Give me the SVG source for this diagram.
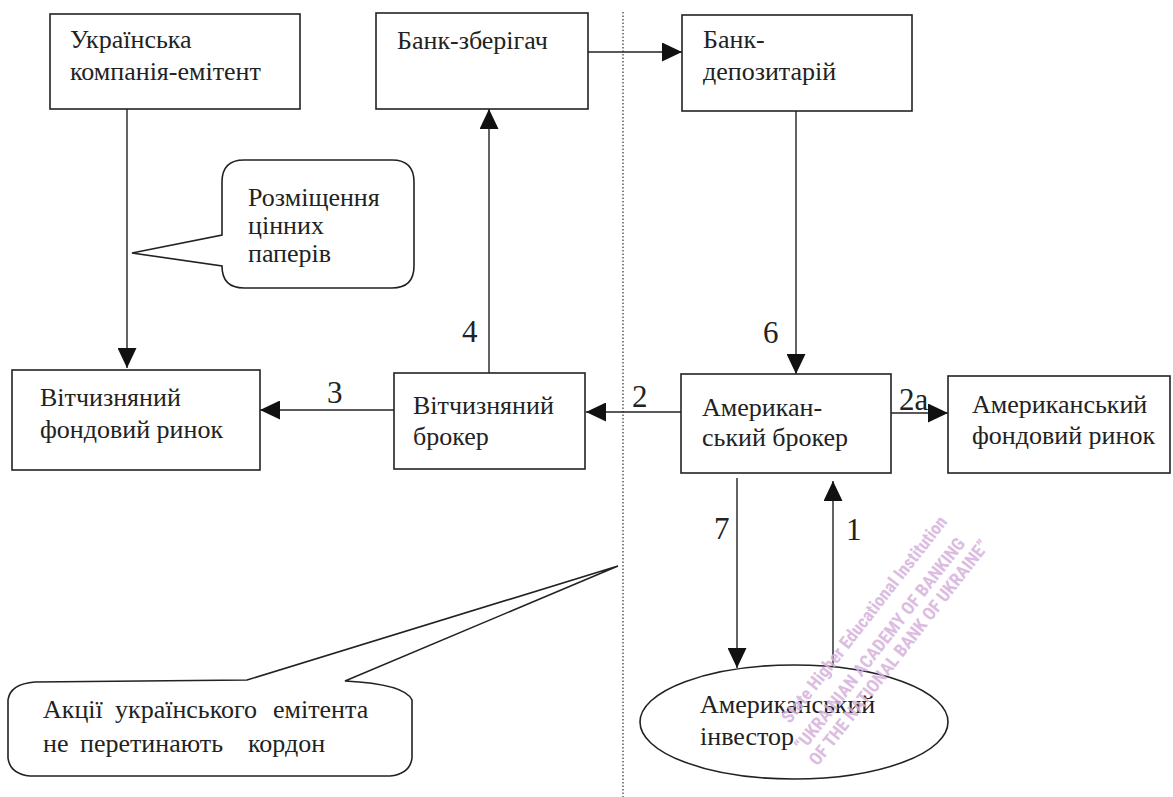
<svg xmlns="http://www.w3.org/2000/svg" width="1173" height="797" viewBox="0 0 1173 797">
<defs>
<style>
.box{fill:#fff;stroke:#222;stroke-width:1.6}
.t{font-family:'Liberation Serif','Tinos','Noto Serif','FreeSerif','Times New Roman',serif;font-size:26px;fill:#222}
.n{font-family:'Liberation Serif','Tinos','Noto Serif','FreeSerif','Times New Roman',serif;font-size:31px;fill:#222}
.ln{fill:none;stroke:#222;stroke-width:1.4}
.wm{font-family:'Roboto Condensed','Liberation Sans Narrow','Liberation Sans',sans-serif;font-weight:bold;font-size:18px;fill:#d6b2dc}
</style>
<marker id="ah" markerUnits="userSpaceOnUse" markerWidth="20" markerHeight="19" refX="20" refY="9.5" orient="auto">
<path d="M0,0 L20,9.5 L0,19 Z" fill="#111"/>
</marker>
</defs>
<rect width="1173" height="797" fill="#fff"/>
<line x1="623" y1="12" x2="623" y2="797" stroke="#333" stroke-width="1.2" stroke-dasharray="1.5,2"/>
<g id="connectors">
<line class="ln" x1="127" y1="109" x2="127" y2="368" marker-end="url(#ah)"/>
<line class="ln" x1="489" y1="373" x2="489" y2="109" marker-end="url(#ah)"/>
<line class="ln" x1="588" y1="52" x2="682" y2="52" marker-end="url(#ah)"/>
<line class="ln" x1="796" y1="111" x2="796" y2="374" marker-end="url(#ah)"/>
<line class="ln" x1="395" y1="410" x2="260" y2="410" marker-end="url(#ah)"/>
<line class="ln" x1="681" y1="412" x2="586" y2="412" marker-end="url(#ah)"/>
<line class="ln" x1="891" y1="413" x2="948" y2="413" marker-end="url(#ah)"/>
<line class="ln" x1="737" y1="478" x2="737" y2="668" marker-end="url(#ah)"/>
<line class="ln" x1="833" y1="668" x2="833" y2="481" marker-end="url(#ah)"/>
<text class="n" x="327" y="403">3</text>
<text class="n" x="462" y="342">4</text>
<text class="n" x="632" y="407">2</text>
<text class="n" x="763" y="343">6</text>
<text class="n" x="899" y="410">2a</text>
<text class="n" x="714" y="539">7</text>
<text class="n" x="846" y="540">1</text>
</g>
<g id="emitent">
<rect class="box" x="50" y="14" width="250" height="95"/>
<text class="t" x="70" y="48">Українська</text>
<text class="t" x="70" y="80">компанія-емітент</text>
</g>
<g id="bank-custodian">
<rect class="box" x="376" y="13" width="212" height="96"/>
<text class="t" x="397" y="49">Банк-зберігач</text>
</g>
<g id="bank-depository">
<rect class="box" x="682" y="15" width="230" height="96"/>
<text class="t" x="703" y="48">Банк-</text>
<text class="t" x="703" y="80">депозитарій</text>
</g>
<g id="callout-placement">
<path class="box" d="M244,160 H392 Q414,160 414,182 V266 Q414,288 392,288 H244 Q222,288 222,266 L132,253 L222,235 V182 Q222,160 244,160 Z"/>
<text class="t" x="248" y="206">Розміщення</text>
<text class="t" x="248" y="234">цінних</text>
<text class="t" x="248" y="262">паперів</text>
</g>
<g id="domestic-market">
<rect class="box" x="12" y="370" width="248" height="100"/>
<text class="t" x="40" y="406">Вітчизняний</text>
<text class="t" x="40" y="438">фондовий ринок</text>
</g>
<g id="domestic-broker">
<rect class="box" x="394" y="373" width="191" height="96"/>
<text class="t" x="413" y="414">Вітчизняний</text>
<text class="t" x="413" y="445">брокер</text>
</g>
<g id="american-broker">
<rect class="box" x="681" y="374" width="210" height="99"/>
<text class="t" x="702" y="416">Американ-</text>
<text class="t" x="702" y="446">ський брокер</text>
</g>
<g id="american-market">
<rect class="box" x="948" y="376" width="222" height="97"/>
<text class="t" x="972" y="413">Американський</text>
<text class="t" x="972" y="444">фондовий ринок</text>
</g>
<g id="american-investor">
<ellipse class="box" cx="794" cy="722" rx="154" ry="57"/>
<text class="t" x="700" y="713">Американський</text>
<text class="t" x="700" y="745">інвестор</text>
</g>
<g id="callout-border">
<path class="box" d="M8,700 Q10,684 35,682 L247,680 L618,566 L345,681 Q405,684 412,700 L412,758 Q410,774 390,776 L30,776 Q10,774 8,758 Z"/>
<text class="t" y="718"><tspan x="43">Акції</tspan><tspan x="115">українського</tspan><tspan x="273">емітента</tspan></text>
<text class="t" y="752"><tspan x="43">не</tspan><tspan x="80">перетинають</tspan><tspan x="248">кордон</tspan></text>
</g>
<g id="watermark" opacity="0.85">
<text class="wm" text-anchor="end" transform="translate(948,522) rotate(-52)">State Higher Educational Institution</text>
<text class="wm" text-anchor="end" transform="translate(966,544) rotate(-52)">“UKRAINIAN ACADEMY OF BANKING</text>
<text class="wm" text-anchor="end" transform="translate(990,546) rotate(-52)">OF THE NATIONAL BANK OF UKRAINE”</text>
</g>
</svg>
